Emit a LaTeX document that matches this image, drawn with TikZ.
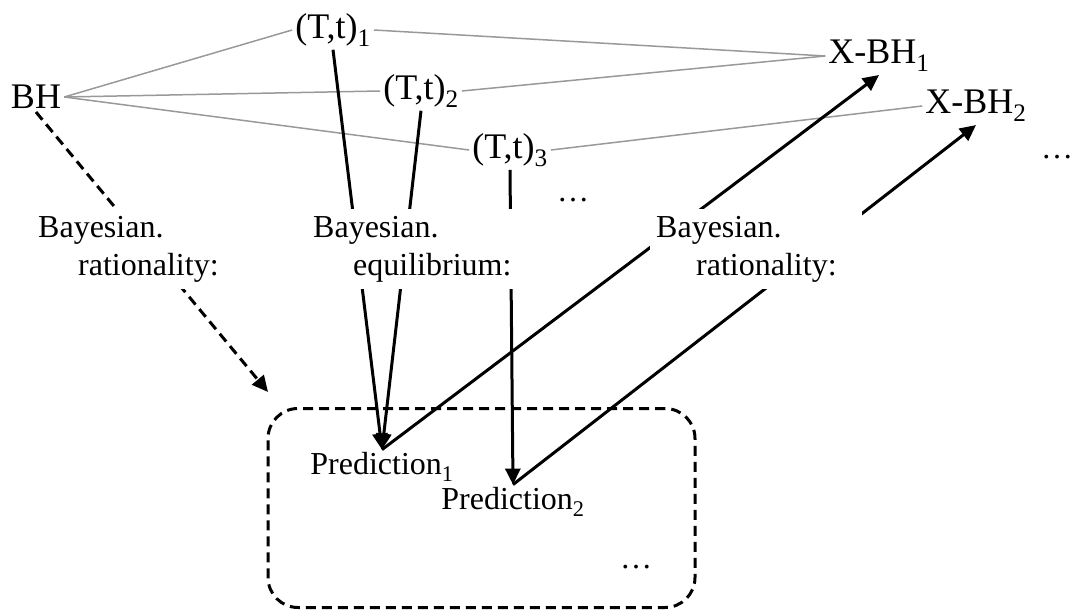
\documentclass[tikz,border=0pt]{standalone}
\usepackage{fontspec}
\setmainfont{Liberation Serif}
\usetikzlibrary{arrows.meta}
\tikzset{
  big/.style={font=\fontsize{36}{40}\selectfont,inner sep=3pt},
  small/.style={font=\fontsize{32}{38}\selectfont,inner sep=3pt},
  link/.style={draw=black!40,line width=1.5pt},
  arr/.style={-{Triangle[length=16pt,width=15pt]},line width=3pt},
  dashline/.style={dash pattern=on 10pt off 6pt},
  tag/.style={small,fill=white,align=left,text width=200pt,inner xsep=6pt,inner ysep=7pt,anchor=north west}
}
\newcommand{\ruletag}[3]{%
  % name, north west corner, second word (indented)
  \node[tag] (#1) at (#2) {Bayesian.\\\hspace*{40pt}#3};
}

\begin{document}
\begin{tikzpicture}[x=1pt,y=-1pt]
  \useasboundingbox (0,0) rectangle (1074,610);
  % behaviour, types, cross behaviours
  \node[big] (bh) at (36,97) {BH};
  \node[big] (tt1) at (333,30) {(T,t)\textsubscript{1}};
  \node[big] (tt2) at (421,91) {(T,t)\textsubscript{2}};
  \node[big] (tt3) at (510,150) {(T,t)\textsubscript{3}};
  \node[big] (xbh1) at (879,56) {X-BH\textsubscript{1}};
  \node[big] (xbh2) at (976,106) {X-BH\textsubscript{2}};
  \node[small] (dotsa) at (573,200) {…};
  \node[small] (dotsb) at (1057,157) {…};
  % predictions
  \node[draw,dashline,line width=3pt,rounded corners=30pt,inner sep=0pt,
    minimum width=427pt,minimum height=199pt] (predbox) at (481.5,508) {};
  \node[small] (pred1) at (382,467) {Prediction\textsubscript{1}};
  \node[small] (pred2) at (513,502) {Prediction\textsubscript{2}};
  \node[small] (dotsc) at (636,567) {…};
  \coordinate (boxin) at (268,392);
  % grey links
  \foreach \t in {tt1,tt2,tt3}{\draw[link] (bh.east) -- (\t.west);}
  \draw[link] (tt1.east) -- (xbh1.west);
  \draw[link] (tt2.east) -- (xbh1.west);
  \draw[link] (tt3.east) -- (xbh2.west);
  % arrows
  \draw[arr,dashline] (bh.south) -- (boxin);
  \draw[arr] (tt1.south) -- (pred1.north);
  \draw[arr] (tt2.south) -- (pred1.north);
  \draw[arr] (tt3.south) -- (pred2.north);
  \draw[arr] (pred1.north) -- (xbh1.south);
  \draw[arr] (pred2.north) -- (xbh2.south);
  % labels on top of the arrows
  \ruletag{ratl}{32,209}{rationality:}
  \ruletag{equi}{307,209}{equilibrium:}
  \ruletag{ratr}{650,209}{rationality:}
\end{tikzpicture}
\end{document}
